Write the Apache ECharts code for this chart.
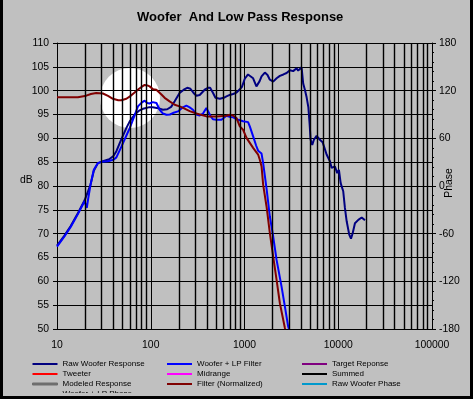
<!DOCTYPE html>
<html><head><meta charset="utf-8">
<script src="https://cdn.jsdelivr.net/npm/echarts@6/dist/echarts.min.js"></script>
<style>html,body{margin:0;padding:0;background:#c0c0c0;overflow:hidden}#c{width:473px;height:399px}</style>
</head><body><div id="c"></div>
<script>
// ---- data (frequency Hz, level dB) ----
const rawFreq = [10,12,14,16.7,19.7,22.8,24.7,27.3,32,36,40,43,48.5,55,59.5,67.3,75,82.6,95,105,120,135,150,165,180,203,225,245,265,290,307,333,376,408,430,462,490,545,600,642,696,755,822,891,940,1007,1090,1139,1236,1340,1450,1520,1649,1760,1864,2023,2200,2384,2600,2812,3048,3305,3594,3738,3898,4064,4227,4406,4600,4800,4950,5073,5277,5500,5875,6370,6810,7510,8150,8500,9220,9750,10170,10610,11300,11780,12300,13100,13670,14250,15070,16360,17780,19280];
const rawDb = [67.5,69.6,71.6,74.3,77.0,80.3,83.2,84.8,85.3,85.6,86.3,87.3,89.8,92.2,93.5,95.0,95.8,96.2,96.5,96.5,96.3,96.0,96.1,96.6,97.8,99.5,100.2,100.6,100.4,99.4,98.95,99.1,100.2,100.6,100.6,99.5,98.5,98.3,98.5,98.8,99.1,99.3,99.6,100.3,100.8,102.5,103.4,103.4,102.6,100.9,102.0,103.0,103.8,103.3,102.3,101.9,102.6,103.1,103.4,103.7,104.3,104.1,104.7,104.2,104.6,104.9,101.5,100.2,98.6,96.5,93,89.7,88.6,89.7,90.5,89.7,89.2,86.6,85.2,83.8,84.1,82.7,83.4,80.6,78.9,75.4,72.6,69.8,68.95,70.1,72.2,72.9,73.4,72.8];

const lpFreq = [10,12,14,16.7,19.7,20.3,20.8,21.5,22.8,24.7,27.3,30,35,40,43,48.5,55,59.5,67.3,73,80,86,92,97,105,110,115,124.5,135,147,160,172,195,220,240,260,282,307,333,361,392,408,440,462,502,568,642,696,755,855,966,1092,1139,1236,1330,1397,1520,1581,1718,1864,2023,2199,2485,2697,2924,2980];
const lpDb = [67.3,69.4,71.4,74.1,76.8,77.2,75.4,77.3,80.3,83.4,84.8,85.1,85.2,85.5,86.0,88.2,90.6,92.1,94.8,96.7,97.5,97.9,97.4,97.3,97.6,97.75,97.4,96.0,95.2,94.95,95.0,95.3,95.65,96.5,96.85,96.5,96.0,95.0,94.8,95.2,96.35,96.3,94.5,94.0,93.9,93.9,94.75,94.5,94.4,93.9,93.6,93.4,92.5,90.4,88.5,87.4,86.8,84.8,79.5,73.6,69.4,64.5,58.9,54.7,50.5,50];

const filtFreq = [10,16.7,20.5,23,26.2,30.9,35,39.5,45,48.5,55,60,67.3,75,86,92,97.3,105.9,114.7,130,140.7,159,180,203,221,260,307,393,502,642,700,755,822,891,966,1050,1092,1236,1397,1456,1520,1581,1718,1864,2023,2199,2384,2697,2720];
const filtDb = [98.6,98.6,98.95,99.3,99.5,99.4,98.9,98.3,98.0,98.0,98.3,98.8,99.6,100.4,101.2,101.1,100.9,100.3,100.2,99.2,98.5,97.75,97.05,96.7,96.4,95.7,95.2,94.6,94.6,94.75,94.95,94.8,94.25,92.5,91.8,90.1,89.7,88.0,86.6,85.5,84.1,80.3,75.7,70.1,65.2,60.3,55.4,50.2,50];

const dbTicks = {min: 50, max: 110, step: 5};
const phaseTicks = {min: -180, max: 180, step: 60};
const freqRange = {min: 10, max: 100000};
const decades = [10, 100, 1000, 10000];

const legendCol1 = ['Raw Woofer Response', 'Tweeter', 'Modeled Response', 'Woofer + LP Phase'];
const legendCol2 = ['Woofer + LP Filter', 'Midrange', 'Filter (Normalized)'];
const legendCol3 = ['Target Reponse', 'Summed', 'Raw Woofer Phase'];

const colors = {
  'Raw Woofer Response': '#000080',
  'Woofer + LP Filter': '#0000ff',
  'Target Reponse': '#800080',
  'Tweeter': '#ff0000',
  'Midrange': '#ff00ff',
  'Summed': '#000000',
  'Modeled Response': '#6e6e6e',
  'Filter (Normalized)': '#800000',
  'Raw Woofer Phase': '#0099cc',
  'Woofer + LP Phase': '#008080'
};

const zip = (a, b) => a.map((v, i) => [v, b[i]]);
const minorFreqs = [];
decades.forEach(d => { for (let k = 2; k <= 9; k++) minorFreqs.push(d * k); });

const FONT = 'Liberation Sans, Arial, sans-serif';
const chart = echarts.init(document.getElementById('c'), null, {renderer: 'canvas'});

function mkLegend(names, left) {
  return {
    orient: 'vertical', left: left, top: 359, padding: 0, itemGap: 0,
    itemWidth: 25, itemHeight: 2, itemTextGap: 2, icon: 'rect', selectedMode: false,
    textStyle: {fontFamily: FONT, fontSize: 8, color: '#000', lineHeight: 10},
    data: names.map(n => n === 'Modeled Response'
      ? {name: n, itemStyle: {borderColor: colors[n], borderWidth: 1}}
      : {name: n})
  };
}

const dataSeries = [
  {name: 'Raw Woofer Response', data: zip(rawFreq, rawDb)},
  {name: 'Woofer + LP Filter', data: zip(lpFreq, lpDb)},
  {name: 'Filter (Normalized)', data: zip(filtFreq, filtDb)}
];
const emptyNames = ['Target Reponse', 'Tweeter', 'Midrange', 'Summed', 'Modeled Response', 'Raw Woofer Phase', 'Woofer + LP Phase'];

const series = [
  {
    name: '_grid', type: 'line', data: [[10, 50]], showSymbol: false, symbol: 'none',
    lineStyle: {width: 0, opacity: 0}, z: 1, silent: true,
    markLine: {
      silent: true, symbol: ['none', 'none'], label: {show: false},
      lineStyle: {color: '#000', type: 'solid', width: 1.4},
      emphasis: {disabled: true},
      data: minorFreqs.map(f => ({xAxis: f}))
    }
  }
].concat(dataSeries.map(s => ({
  name: s.name, type: 'line', data: s.data, symbol: 'none', showSymbol: false,
  lineStyle: {color: colors[s.name], width: 2}, itemStyle: {color: colors[s.name]},
  z: 3, silent: true, animation: false
}))).concat(emptyNames.map(n => ({
  name: n, type: 'line', data: [], symbol: 'none',
  lineStyle: {color: colors[n], width: 2}, itemStyle: {color: colors[n]}
})));

chart.setOption({
  animation: false,
  backgroundColor: '#c0c0c0',
  title: {
    text: 'Woofer  And Low Pass Response', left: 137, top: 11, padding: 0,
    textStyle: {fontFamily: FONT, fontSize: 13, fontWeight: 'bold', color: '#000'}
  },
  grid: {left: 57, right: 41, top: 43, bottom: 70, containLabel: false},
  xAxis: {
    type: 'log', logBase: 10, min: freqRange.min, max: freqRange.max, splitNumber: 4,
    axisLine: {show: true, lineStyle: {color: '#000', width: 1}},
    axisTick: {show: false},
    axisLabel: {fontFamily: FONT, fontSize: 10.4, color: '#000', margin: 11,
      formatter: v => String(Math.round(v))},
    splitLine: {show: true, lineStyle: {color: '#000', width: 1}}
  },
  yAxis: [
    {
      type: 'value', min: dbTicks.min, max: dbTicks.max, interval: dbTicks.step,
      axisLine: {show: true, lineStyle: {color: '#000', width: 1}},
      axisTick: {show: true, length: 4, lineStyle: {color: '#000'}},
      axisLabel: {fontFamily: FONT, fontSize: 10.4, color: '#000', margin: 8},
      splitLine: {show: true, lineStyle: {color: '#000', width: 1}}
    },
    {
      type: 'value', position: 'right', min: phaseTicks.min, max: phaseTicks.max, interval: phaseTicks.step,
      axisLine: {show: true, lineStyle: {color: '#000', width: 1}},
      axisTick: {show: true, length: 4, lineStyle: {color: '#000'}},
      minorTick: {show: true, splitNumber: 5, length: 2, lineStyle: {color: '#000'}},
      axisLabel: {fontFamily: FONT, fontSize: 10.4, color: '#000', margin: 7},
      splitLine: {show: false}
    }
  ],
  legend: [mkLegend(legendCol1, 32), mkLegend(legendCol2, 167), mkLegend(legendCol3, 302)],
  graphic: [
    {type: 'circle', shape: {cx: 130, cy: 98, r: 30}, style: {fill: '#ffffff'}, z: -1, silent: true},
    {type: 'text', left: 20, top: 175, style: {text: 'dB', font: '10.4px ' + FONT, fill: '#000'}, z: 10},
    {type: 'text', x: 449, y: 183, rotation: Math.PI / 2,
      style: {text: 'Phase', font: '10.4px ' + FONT, fill: '#000', textAlign: 'center', textVerticalAlign: 'middle'}, z: 10},
    {type: 'rect', shape: {x: 0, y: 393, width: 473, height: 6}, style: {fill: '#c0c0c0'}, z: 100, silent: true},
    {type: 'rect', shape: {x: 0, y: 396, width: 473, height: 3}, style: {fill: '#000'}, z: 101, silent: true},
    {type: 'rect', shape: {x: 0, y: 0, width: 3, height: 399}, style: {fill: '#000'}, z: 101, silent: true},
    {type: 'rect', shape: {x: 470, y: 0, width: 3, height: 399}, style: {fill: '#000'}, z: 101, silent: true}
  ],
  series: series
});
</script>
</body></html>
